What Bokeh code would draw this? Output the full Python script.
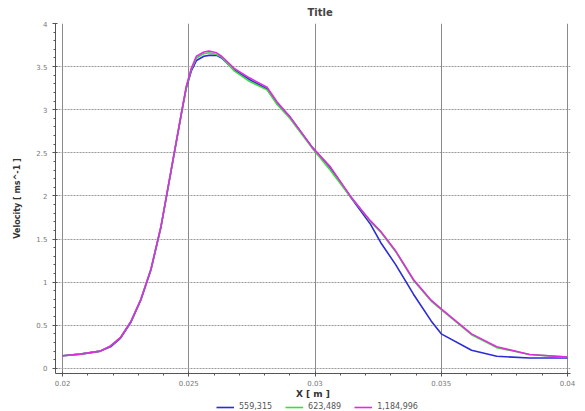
import numpy as np
from bokeh.plotting import figure
from bokeh.layouts import column
from bokeh.models import Range1d, FixedTicker, Legend, LegendItem
from bokeh.embed import file_html
from bokeh.resources import INLINE

# ---- data ----
x_pos = [0.0200, 0.0207, 0.0215, 0.0219, 0.0223, 0.0227, 0.0231, 0.0235, 0.0239, 0.0243,
         0.0247, 0.0249, 0.0251, 0.0253, 0.0256, 0.0258, 0.0261, 0.0263, 0.0268, 0.0274,
         0.0281, 0.0285, 0.0290, 0.0299, 0.0306, 0.0314, 0.0318, 0.0322, 0.0326, 0.0332,
         0.0339, 0.0346, 0.0350, 0.0362, 0.0372, 0.0385, 0.0400]

vel_559315 = [0.146, 0.165, 0.20, 0.25, 0.35, 0.53, 0.79, 1.14, 1.64, 2.29,
              2.94, 3.25, 3.45, 3.57, 3.62, 3.63, 3.63, 3.60, 3.46, 3.35,
              3.24, 3.07, 2.92, 2.56, 2.33, 1.99, 1.83, 1.67, 1.46, 1.20,
              0.86, 0.55, 0.40, 0.21, 0.14, 0.12, 0.12]

vel_623489 = [0.146, 0.165, 0.20, 0.26, 0.36, 0.54, 0.80, 1.15, 1.65, 2.30,
              2.95, 3.26, 3.47, 3.60, 3.65, 3.66, 3.64, 3.61, 3.45, 3.33,
              3.23, 3.06, 2.90, 2.55, 2.30, 1.99, 1.85, 1.70, 1.58, 1.35,
              1.02, 0.78, 0.68, 0.39, 0.24, 0.16, 0.13]

vel_1184996 = [0.146, 0.165, 0.20, 0.26, 0.36, 0.54, 0.80, 1.15, 1.65, 2.30,
               2.95, 3.27, 3.48, 3.62, 3.67, 3.68, 3.66, 3.62, 3.48, 3.37,
               3.26, 3.09, 2.92, 2.56, 2.34, 2.00, 1.85, 1.71, 1.59, 1.36,
               1.03, 0.79, 0.69, 0.40, 0.25, 0.16, 0.13]

series_names = ["559,315", "623,489", "1,184,996"]
series_colors = ["#2b2bd8", "#3ddc3d", "#e02ce0"]
series_values = [vel_559315, vel_623489, vel_1184996]

x_ticks = [0.02, 0.025, 0.03, 0.035, 0.04]
x_tick_labels = ["0.02", "0.025", "0.03", "0.035", "0.04"]
y_ticks = [0, 0.5, 1, 1.5, 2, 2.5, 3, 3.5, 4]
y_tick_labels = ["0", "0.5", "1", "1.5", "2", "2.5", "3", "3.5", "4"]

FONT = "DejaVu Sans"

p = figure(width=585, height=401, output_backend="svg", toolbar_location=None,
           x_range=Range1d(0.01972, 0.04012), y_range=Range1d(-0.06, 4.0),
           min_border_left=55, min_border_right=15, min_border_top=23, min_border_bottom=24)
p.outline_line_color = None
p.background_fill_color = "white"

# title
p.title.text = "Title"
p.title.text_font = FONT
p.title.text_font_size = "10px"
p.title.text_font_style = "bold"
p.title.align = "left"
p.title.offset = 252
p.title.standoff = 9
p.title.vertical_align = "middle"

# axes
x_minor = list(np.round(np.arange(0.02, 0.04001, 0.001), 4))
y_minor = list(np.round(np.arange(0, 4.001, 0.1), 2))
p.xaxis.ticker = FixedTicker(ticks=x_ticks, minor_ticks=x_minor)
p.yaxis.ticker = FixedTicker(ticks=y_ticks, minor_ticks=y_minor)
p.xaxis.major_label_overrides = {t: l for t, l in zip(x_ticks, x_tick_labels)}
p.yaxis.major_label_overrides = {t: l for t, l in zip(y_ticks, y_tick_labels)}

for ax in (p.xaxis, p.yaxis):
    ax.axis_line_color = "#555555"
    ax.major_tick_line_color = "#555555"
    ax.minor_tick_line_color = "#555555"
    ax.major_label_text_font = FONT
    ax.major_label_text_font_size = "7px"
    ax.major_label_text_color = "#777777"
    ax.axis_label_text_font = FONT
    ax.axis_label_text_font_style = "bold"
    ax.axis_label_text_color = "#333333"
    ax.major_tick_in = 2
    ax.major_tick_out = 3
    ax.minor_tick_in = 0
    ax.minor_tick_out = 2

p.xaxis.axis_label = "X [ m ]"
p.xaxis.axis_label_text_font_size = "9px"
p.xaxis.major_label_standoff = 3
p.xaxis.axis_label_standoff = 0

p.yaxis.axis_label = "Velocity [ ms^-1 ]"
p.yaxis.axis_label_text_font_size = "8px"
p.yaxis.major_label_standoff = 5
p.yaxis.axis_label_standoff = 11

# grid
p.xgrid.ticker = FixedTicker(ticks=x_ticks)
p.ygrid.ticker = FixedTicker(ticks=y_ticks)
p.xgrid.grid_line_color = "#8a8a8a"
p.xgrid.grid_line_width = 1
p.ygrid.grid_line_color = "#999999"
p.ygrid.grid_line_dash = "2 1"
p.ygrid.grid_line_width = 1

for ys, c in zip(series_values, series_colors):
    p.line(x_pos, ys, line_color=c, line_width=1.6)

# legend strip below the plot (its frame is aligned with the main frame, left edge at 55px)
lp = figure(width=585, height=10, output_backend="svg", toolbar_location=None,
            x_range=Range1d(0, 1), y_range=Range1d(0, 1),
            min_border_left=0, min_border_right=0, min_border_top=0, min_border_bottom=0)
lp.axis.visible = False
lp.grid.visible = False
lp.outline_line_color = None
leg_renderers = [lp.line([np.nan], [np.nan], line_color=c, line_width=1.6) for c in series_colors]
legend = Legend(items=[LegendItem(label=n, renderers=[r]) for n, r in zip(series_names, leg_renderers)],
                orientation="horizontal", location=(161, 0),
                label_text_font=FONT, label_text_font_size="8px", label_text_color="#555555",
                glyph_width=18, glyph_height=8, label_height=8, label_standoff=5,
                spacing=13, padding=1, margin=0,
                background_fill_alpha=0, border_line_color=None)
lp.add_layout(legend, "center")

layout = column(p, lp, spacing=0)
open("out.html", "w").write(file_html(layout, INLINE))
